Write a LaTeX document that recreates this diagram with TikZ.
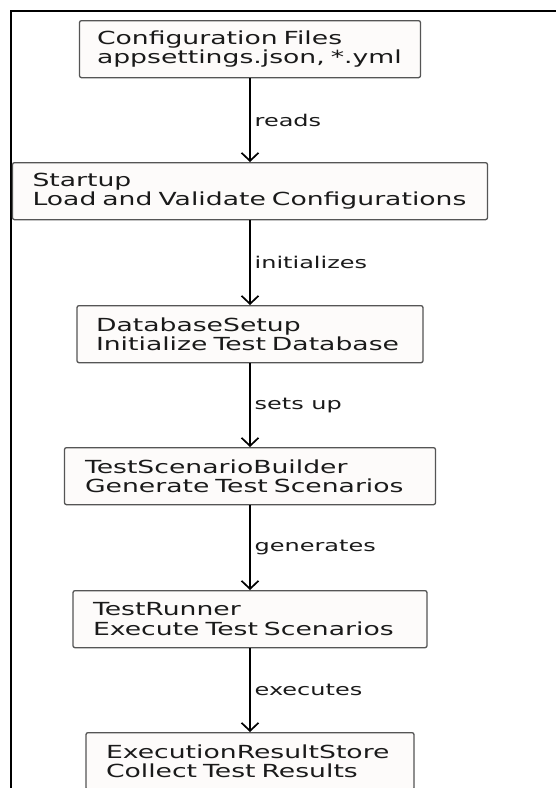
\documentclass[tikz,border=0pt]{standalone}
\usepackage{fontspec}
\setmainfont{DejaVu Sans}[FakeStretch=1.48]
\usetikzlibrary{arrows.meta}
\definecolor{boxfill}{HTML}{FDFBFA}
\definecolor{boxline}{HTML}{555555}
\definecolor{ink}{HTML}{1A1A1A}
\begin{document}
\begin{tikzpicture}[x=1pt,y=-1pt,
  stage/.style={draw=boxline, fill=boxfill, line width=1.3pt, rounded corners=2pt,
    minimum height=57pt, inner ysep=0pt, align=left, text=ink,
    font=\fontsize{18}{19.5}\selectfont, anchor=north},
  flow/.style={draw=black, line width=1.4pt,
    -{Straight Barb[length=8pt,width=17pt,line width=1.7pt]}},
  lbl/.style={font=\fontsize{16.2}{18}\selectfont, text=ink, anchor=west,
    inner sep=0pt, xshift=4pt}
]
\useasboundingbox (0,0) rectangle (556,788);
\clip (0,0) rectangle (556,788);
\fill[white] (0,0) rectangle (556,788);
\draw[line width=2.6pt] (11,800) -- (11,11) -- (560,11);

\node[stage, inner xsep=17.5pt, text width=306pt] (b1) at (250,20)
  {\mbox{Configuration Files}\\\mbox{appsettings.json, *.yml}};
\node[stage, inner xsep=20pt, text width=435pt] (b2) at (250,162)
  {\mbox{Startup}\\\mbox{Load and Validate Configurations}};
\node[stage, inner xsep=19pt, text width=308pt] (b3) at (250,305)
  {\mbox{DatabaseSetup}\\\mbox{Initialize Test Database}};
\node[stage, inner xsep=20.5pt, text width=330pt] (b4) at (250,447)
  {\mbox{TestScenarioBuilder}\\\mbox{Generate Test Scenarios}};
\node[stage, inner xsep=20pt, text width=314pt] (b5) at (250,590)
  {\mbox{TestRunner}\\\mbox{Execute Test Scenarios}};
\node[stage, inner xsep=20pt, text width=288pt] (b6) at (250,732)
  {\mbox{ExecutionResultStore}\\\mbox{Collect Test Results}};

\draw[flow] (b1) -- node[lbl] {reads} (b2);
\draw[flow] (b2) -- node[lbl] {initializes} (b3);
\draw[flow] (b3) -- node[lbl] {sets up} (b4);
\draw[flow] (b4) -- node[lbl] {generates} (b5);
\draw[flow] (b5) -- node[lbl] {executes} (b6);
\end{tikzpicture}
\end{document}
